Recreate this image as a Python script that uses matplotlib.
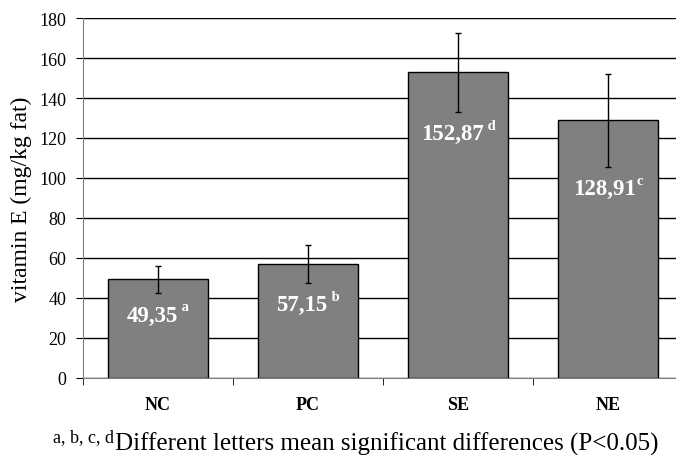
import matplotlib
matplotlib.use("Agg")
import matplotlib.pyplot as plt
import numpy as np

categories = ["NC", "PC", "SE", "NE"]
values = [49.35, 57.15, 152.87, 128.91]
errors = [6.9, 9.5, 19.8, 23.2]
value_labels = ["49,35", "57,15", "152,87", "128,91"]
letters = [" a", " b", " d", "c"]
yticks = [0, 20, 40, 60, 80, 100, 120, 140, 160, 180]

plt.rcParams['font.family'] = ['Liberation Serif', 'DejaVu Serif']

fig = plt.figure(figsize=(6.76, 4.56), dpi=100)
ax = fig.add_axes([83/676, 1-379/456, 600/676, 360/456])

x = np.arange(len(categories))
ax.bar(x, values, width=0.667, color="#808080", edgecolor="black", linewidth=1.0, zorder=3)
ax.errorbar(x, values, yerr=errors, fmt="none", ecolor="black", elinewidth=1.0,
            capsize=2.3, capthick=1.0, zorder=4)

ax.set_xlim(-0.5, 3.5)
ax.set_ylim(0, 180)
ax.set_yticks(yticks)
ax.yaxis.grid(True, color="black", linewidth=1.0, zorder=0)
ax.set_axisbelow(True)
for s in ["top", "right"]:
    ax.spines[s].set_visible(False)
ax.spines["left"].set_color("#808080")
ax.spines["bottom"].set_color("#808080")
ax.spines["left"].set_zorder(5)
ax.spines["bottom"].set_zorder(5)

ax.set_xticks(x)
ax.set_xticklabels(categories, fontweight="bold", fontsize=13)
ax.set_xticks(np.arange(-0.5, 3.6, 1.0), minor=True)
ax.tick_params(axis="x", which="major", length=0, pad=13)
ax.tick_params(axis="x", which="minor", length=5, color="black", direction="out")
ax.tick_params(axis="y", length=5, pad=7, labelsize=13, color="black")
ax.set_ylabel("vitamin E (mg/kg fat)", fontsize=17, labelpad=5)

mains = []
sups = []
for xi, v, e, lab, let in zip(x, values, errors, value_labels, letters):
    t = ax.text(xi, v - e - 11, lab, ha="center", va="center", color="white",
                fontsize=16.5, fontweight="bold", zorder=6)
    s = ax.annotate(let, xy=(1, 1.2), xycoords=t, xytext=(0, 0), textcoords="offset points",
                    ha="left", va="top", color="white", fontsize=10.5, fontweight="bold", zorder=6)
    mains.append(t)
    sups.append(s)

foot = fig.text(0.572, 1 - 444/456, "Different letters mean significant differences (P<0.05)",
                ha="center", va="center", fontsize=18)
fs = ax.annotate("a, b, c, d", xy=(0, 1.0), xycoords=foot, xytext=(-1, 2), textcoords="offset points",
                 ha="right", va="top", fontsize=13, annotation_clip=False)

# center main+superscript groups
fig.canvas.draw()
r = fig.canvas.get_renderer()
for t, s in zip(mains, sups):
    wsup = s.get_window_extent(r).width
    dx = -wsup / 2
    xd, yd = t.get_position()
    disp = ax.transData.transform((xd, yd))
    newx = ax.transData.inverted().transform((disp[0] + dx, disp[1]))[0]
    t.set_position((newx, yd))

fig.savefig("out.png", dpi=100)
